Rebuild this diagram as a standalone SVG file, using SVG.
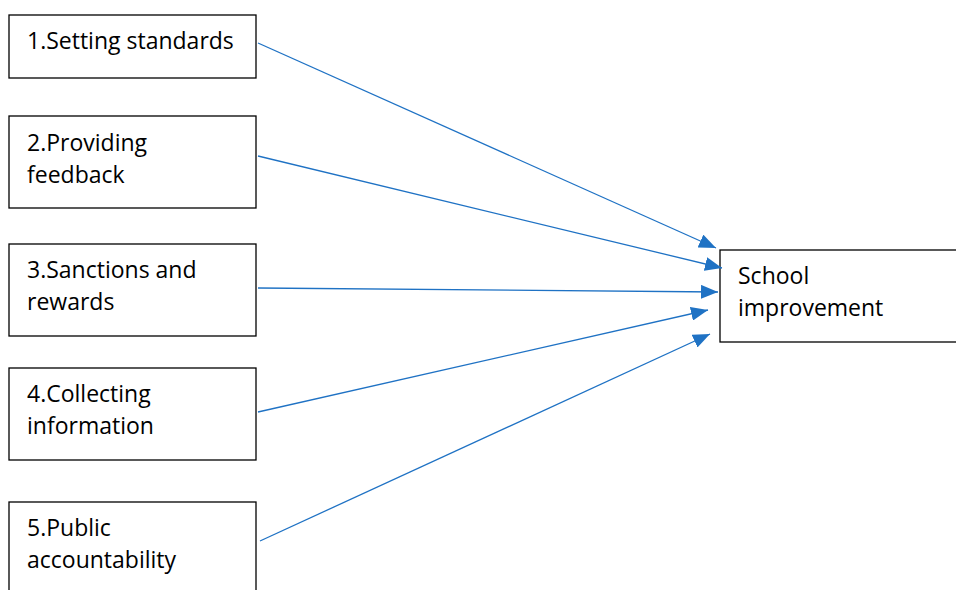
<svg xmlns="http://www.w3.org/2000/svg" width="956" height="590" viewBox="0 0 956 590">
<style>
.box{fill:#fff;stroke:#000;stroke-width:1.3}
.t{font-family:"Open Sans","Liberation Sans",sans-serif;font-size:23px;fill:#000}
.c{stroke:#1f72c4;stroke-width:1.3;fill:none;marker-end:url(#ah)}
</style>
<defs>
<marker id="ah" markerUnits="userSpaceOnUse" markerWidth="18" markerHeight="14" refX="17" refY="7" orient="auto" viewBox="0 0 18 14">
<path d="M0,0 L17,7 L0,14 Z" fill="#1f72c4"/>
</marker>
</defs>
<g id="n1"><rect class="box" x="9" y="15" width="247" height="63"/><text class="t" x="27" y="49">1.Setting standards</text></g>
<g id="n2"><rect class="box" x="9" y="116" width="247" height="92"/><text class="t" x="27" y="151">2.Providing</text><text class="t" x="27" y="183">feedback</text></g>
<g id="n3"><rect class="box" x="9" y="244" width="247" height="92"/><text class="t" x="27" y="278">3.Sanctions and</text><text class="t" x="27" y="310">rewards</text></g>
<g id="n4"><rect class="box" x="9" y="368" width="247" height="92"/><text class="t" x="27" y="402">4.Collecting</text><text class="t" x="27" y="434">information</text></g>
<g id="n5"><rect class="box" x="9" y="502" width="247" height="100"/><text class="t" x="27" y="536">5.Public</text><text class="t" x="27" y="568">accountability</text></g>
<g id="n6"><rect class="box" x="720" y="250" width="240" height="92"/><text class="t" x="738" y="284">School</text><text class="t" x="738" y="316">improvement</text></g>
<g id="connectors">
<line class="c" x1="258" y1="43" x2="716" y2="248"/>
<line class="c" x1="258" y1="156" x2="722" y2="268"/>
<line class="c" x1="258" y1="288" x2="718" y2="292"/>
<line class="c" x1="258" y1="412" x2="708" y2="310"/>
<line class="c" x1="260" y1="541" x2="710" y2="334"/>
</g>
</svg>
